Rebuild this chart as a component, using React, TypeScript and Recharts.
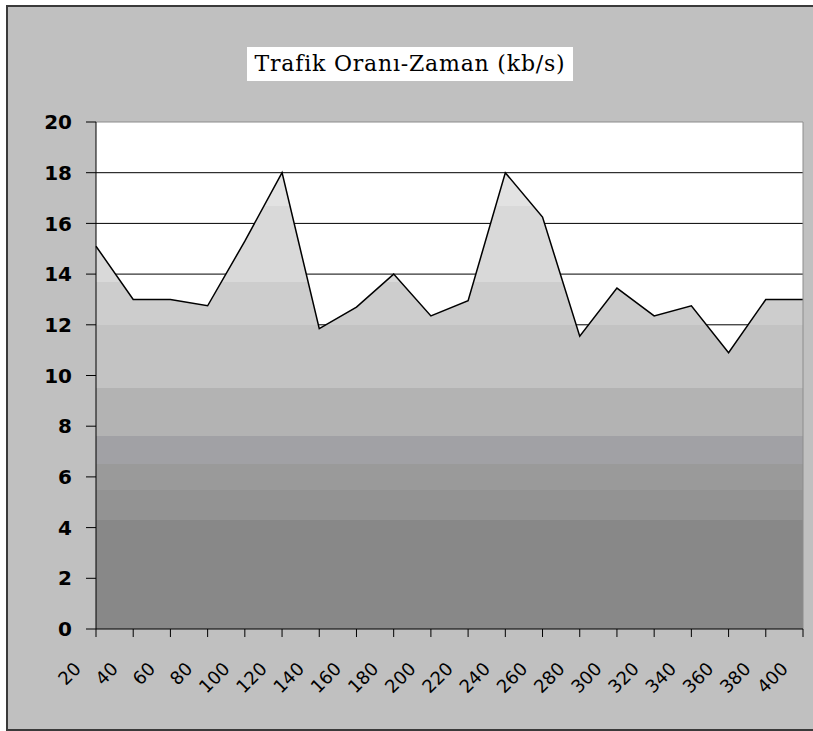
import { AreaChart, Area, XAxis, YAxis, CartesianGrid, ReferenceLine } from "recharts";

// zaman (s) ve trafik oranı (kb/s)
const times = [20, 40, 60, 80, 100, 120, 140, 160, 180, 200, 220, 240, 260, 280, 300, 320, 340, 360, 380, 400];
const rates = [15.1, 13.0, 13.0, 12.75, 15.3, 18.0, 11.85, 12.7, 14.0, 12.35, 12.95, 18.0, 16.25, 11.55, 13.45, 12.35, 12.75, 10.9, 13.0, 13.0];
const yTicks = [0, 2, 4, 6, 8, 10, 12, 14, 16, 18, 20];
const gridLines = [2, 4, 6, 8, 10, 12, 14, 16, 18];

// Excel-style banded gradient, light at the top
const bands = [
    { offset: 0, color: "#e2e2e2" },
    { offset: 0.0722, color: "#d9d9d9" },
    { offset: 0.2389, color: "#cdcdcd" },
    { offset: 0.3333, color: "#c3c3c3" },
    { offset: 0.4722, color: "#b3b3b3" },
    { offset: 0.5778, color: "#a1a1a5" },
    { offset: 0.6389, color: "#9a9a9a" },
    { offset: 0.6944, color: "#939393" },
    { offset: 0.7611, color: "#888888" },
];

const data = times.map((t, i) => ({ t: String(t), v: rates[i] }));

const XTick = (props: any) => {
    const { x, y, payload } = props;
    return (
        <g transform={`translate(${x - 14},${y + 31})`}>
            <text
                x={0}
                y={0}
                textAnchor="end"
                transform="rotate(-45)"
                fontFamily="DejaVu Sans"
                fontSize={18}
                fill="#000"
            >
                {payload.value}
            </text>
        </g>
    );
};

const App = () => {
    return (
        <div style={{ position: "absolute", left: 0, top: 0, width: 813, height: 731, background: "#fff" }}>
            <div
                style={{
                    position: "absolute", left: 6, top: 5, width: 805, height: 722,
                    background: "#c0c0c0", border: "2px solid #3a3a3a",
                }}
            />
            <div
                style={{
                    position: "absolute", left: 247, top: 47, width: 326, height: 34,
                    background: "#fff", textAlign: "center", lineHeight: "34px",
                    fontFamily: "DejaVu Serif", fontSize: 22, letterSpacing: 0.8, color: "#000",
                    whiteSpace: "nowrap",
                }}
            >
                Trafik Oranı-Zaman (kb/s)
            </div>
            <div style={{ position: "absolute", left: 0, top: 0 }}>
                <AreaChart width={813} height={731} data={data} margin={{ top: 122, right: 10, bottom: 0, left: 0 }}>
                    <defs>
                        <linearGradient id="bands" x1="0" y1="0" x2="0" y2="1">
                            {bands.map((b, i) => {
                                const next = bands[i + 1];
                                return [
                                    <stop key={`a${i}`} offset={b.offset} stopColor={b.color} />,
                                    <stop key={`b${i}`} offset={next ? next.offset : 1} stopColor={b.color} />,
                                ];
                            })}
                        </linearGradient>
                    </defs>
                    <CartesianGrid vertical={false} fill="#fff" stroke="#000" horizontalValues={gridLines} />
                    <XAxis
                        dataKey="t"
                        height={102}
                        interval={0}
                        stroke="#000"
                        tickSize={8}
                        tick={<XTick />}
                    />
                    <YAxis
                        width={96}
                        domain={[0, 20]}
                        ticks={yTicks}
                        interval={0}
                        stroke="#000"
                        tickSize={10}
                        tickMargin={14}
                        tick={{ fill: "#000", fontSize: 20, fontWeight: "bold", fontFamily: "DejaVu Sans" }}
                    />
                    <ReferenceLine y={20} stroke="#8c8c8c" />
                    <ReferenceLine x="400" stroke="#8c8c8c" />
                    <Area
                        type="linear"
                        dataKey="v"
                        stroke="#000"
                        strokeWidth={1.5}
                        fill="url(#bands)"
                        fillOpacity={1}
                        dot={false}
                        activeDot={false}
                        isAnimationActive={false}
                    />
                </AreaChart>
            </div>
        </div>
    );
};

export default App;
